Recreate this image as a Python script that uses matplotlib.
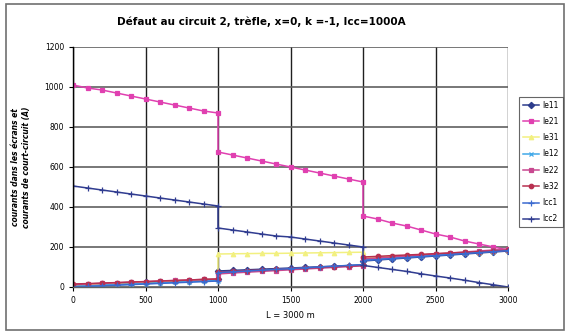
import matplotlib
matplotlib.use("Agg")
import matplotlib.pyplot as plt
from matplotlib.patches import Rectangle

# positions along the line (m); 1000 and 2000 appear twice (steps)
L = [0, 100, 200, 300, 400, 500, 600, 700, 800, 900, 1000,
     1000, 1100, 1200, 1300, 1400, 1500, 1600, 1700, 1800, 1900, 2000,
     2000, 2100, 2200, 2300, 2400, 2500, 2600, 2700, 2800, 2900, 3000]

Ie11 = [8, 11, 14, 17, 20, 23, 26, 29, 32, 35, 38,
        80, 83, 86, 89, 92, 95, 98, 101, 104, 107, 110,
        130, 135, 140, 145, 150, 155, 160, 165, 170, 175, 180]
Ie21 = [1010, 995, 985, 970, 955, 940, 925, 910, 895, 880, 870,
        675, 660, 645, 630, 615, 600, 585, 570, 555, 540, 525,
        355, 340, 320, 305, 285, 265, 250, 230, 215, 200, 185]
Ie31 = [10, 13, 16, 19, 22, 25, 28, 31, 34, 37, 40,
        165, 166, 167, 168, 168, 169, 170, 171, 172, 173, 174,
        145, 149, 153, 157, 161, 165, 169, 173, 177, 181, 185]
Ie12 = [2, 5, 8, 11, 14, 17, 20, 23, 26, 29, 32,
        70, 74, 78, 82, 86, 90, 94, 98, 102, 106, 110,
        135, 140, 145, 150, 155, 160, 165, 170, 175, 180, 185]
Ie22 = [12, 15, 18, 21, 24, 27, 30, 33, 35, 38, 40,
        65, 70, 74, 78, 82, 86, 90, 94, 98, 102, 106,
        140, 145, 150, 155, 160, 165, 170, 175, 180, 185, 190]
Ie32 = [15, 17, 20, 22, 25, 27, 30, 32, 35, 38, 40,
        75, 78, 82, 85, 88, 92, 95, 98, 102, 105, 108,
        150, 153, 157, 160, 163, 167, 170, 173, 177, 180, 183]
Icc1 = [0, 3, 6, 9, 12, 15, 18, 21, 24, 27, 30,
        72, 76, 80, 84, 88, 92, 96, 100, 104, 108, 112,
        132, 137, 142, 147, 152, 157, 162, 167, 172, 177, 182]
Icc2 = [505, 495, 485, 475, 465, 455, 445, 435, 425, 415, 405,
        295, 285, 275, 265, 255, 250, 240, 230, 220, 210, 200,
        108, 98, 88, 78, 66, 55, 45, 34, 22, 11, 0]

names = ["Ie11", "Ie21", "Ie31", "Ie12", "Ie22", "Ie32", "Icc1", "Icc2"]
series = [Ie11, Ie21, Ie31, Ie12, Ie22, Ie32, Icc1, Icc2]
colors = ["#2c3c8c", "#e040b0", "#f2f080", "#40a8e8", "#c84890",
          "#b83050", "#3a6ad0", "#303c90"]
markers = ["D", "s", "^", "x", "s", "o", "+", "+"]

fig = plt.figure(figsize=(5.69, 3.34), dpi=100)
W, H = 569, 334
ax = fig.add_axes([73 / W, 1 - 287 / H, (508 - 73) / W, (287 - 47) / H])

for name, vals, c, m in zip(names, series, colors, markers):
    ms = 4.2 if m == "+" else 3.2
    ax.plot(L, vals, color=c, marker=m, markersize=ms, linewidth=1.1,
            markeredgewidth=0.9, label=name)

ax.set_xlim(0, 3000)
ax.set_ylim(0, 1200)
ax.set_xticks([0, 500, 1000, 1500, 2000, 2500, 3000])
ax.set_yticks([0, 200, 400, 600, 800, 1000, 1200])
ax.tick_params(labelsize=5.5, length=3, width=0.8)
ax.grid(axis="y", color="#606060", linewidth=1.2)
ax.grid(axis="x", color="#202020", linewidth=1.0)
ax.set_axisbelow(True)
for s in ["top", "right"]:
    ax.spines[s].set_visible(False)
ax.spines["left"].set_linewidth(1.0)
ax.spines["bottom"].set_linewidth(1.0)
ax.spines["bottom"].set_color("#606060")

ax.set_xlabel("L = 3000 m", fontsize=6, labelpad=4)
ax.set_ylabel("courants dans les écrans et\ncourants de court-circuit (A)",
              fontsize=5.5, fontstyle="italic", fontweight="bold", labelpad=10)

fig.text(0.46, 1 - 22 / H, "Défaut au circuit 2, trèfle, x=0, k =-1, Icc=1000A",
         ha="center", va="center", fontsize=7.5, fontweight="bold")

leg = fig.legend(loc="upper left", bbox_to_anchor=(515 / W, 1 - 93 / H),
                 fontsize=5.5, frameon=True, fancybox=False, edgecolor="#404040",
                 handlelength=2.2, labelspacing=0.95, borderpad=0.5,
                 handletextpad=0.4)
leg.get_frame().set_linewidth(0.8)

fig.patches.append(Rectangle((6 / W, 4 / H), 558 / W, 1 - 8 / H,
                             transform=fig.transFigure, fill=False,
                             edgecolor="#707070", linewidth=1.2))

fig.savefig("out.png", dpi=100)
